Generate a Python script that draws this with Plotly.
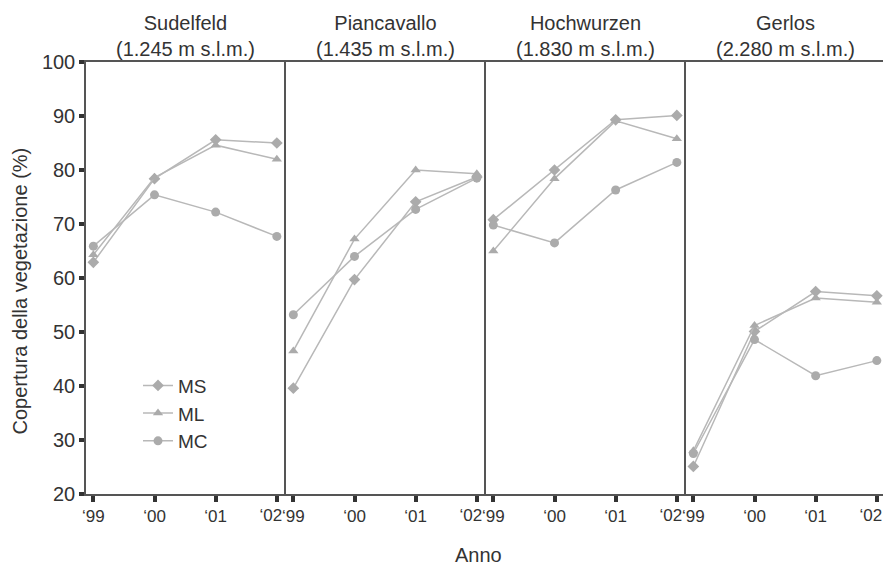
import plotly.graph_objects as go
from plotly.subplots import make_subplots

sites = ["Sudelfeld", "Piancavallo", "Hochwurzen", "Gerlos"]
altitudes = ["(1.245 m s.l.m.)", "(1.435 m s.l.m.)", "(1.830 m s.l.m.)", "(2.280 m s.l.m.)"]
years = [0, 1, 2, 3]
year_labels = ["\u201899", "\u201800", "\u201801", "\u201802"]

ms_sudelfeld = [62.9, 78.4, 85.6, 85.0]
ml_sudelfeld = [64.3, 78.6, 84.6, 82.0]
mc_sudelfeld = [65.9, 75.4, 72.2, 67.7]

ms_piancavallo = [39.6, 59.7, 74.1, 78.7]
ml_piancavallo = [46.5, 67.2, 80.0, 79.3]
mc_piancavallo = [53.2, 64.0, 72.7, 78.5]

ms_hochwurzen = [70.8, 80.0, 89.3, 90.1]
ml_hochwurzen = [65.0, 78.4, 89.1, 85.8]
mc_hochwurzen = [69.8, 66.5, 76.3, 81.4]

ms_gerlos = [25.1, 50.1, 57.5, 56.7]
ml_gerlos = [28.0, 51.2, 56.3, 55.5]
mc_gerlos = [27.5, 48.6, 41.9, 44.7]

series_names = ["MS", "ML", "MC"]
symbols = ["diamond", "triangle-up", "circle"]
data = [
    [ms_sudelfeld, ml_sudelfeld, mc_sudelfeld],
    [ms_piancavallo, ml_piancavallo, mc_piancavallo],
    [ms_hochwurzen, ml_hochwurzen, mc_hochwurzen],
    [ms_gerlos, ml_gerlos, mc_gerlos],
]

line_col = "#b8b8b8"
mark_col = "#ababab"
axis_col = "#555555"
text_col = "#333333"
font_family = "Liberation Sans, Arial, sans-serif"
FS = 20
TFS = 17
XRANGE = [-0.12, 3.15]

fig = make_subplots(rows=1, cols=4, shared_yaxes=True, horizontal_spacing=0)

for p in range(4):
    for s in range(3):
        fig.add_trace(
            go.Scatter(
                x=years,
                y=data[p][s],
                mode="lines+markers",
                name=series_names[s],
                legendgroup=series_names[s],
                showlegend=(p == 0),
                line=dict(color=line_col, width=1.5),
                marker=dict(symbol=symbols[s], size=9, color=mark_col,
                            line=dict(width=0)),
            ),
            row=1, col=p + 1,
        )

for p in range(4):
    fig.update_xaxes(
        row=1, col=p + 1,
        range=XRANGE,
        tickvals=years, ticktext=year_labels[:3] + [""],
        ticks="outside", ticklen=6, tickwidth=4, tickcolor="#333333",
        showline=True, linecolor=axis_col, linewidth=1.5, mirror=True,
        showgrid=False, zeroline=False,
        tickfont=dict(size=TFS, color=text_col, family=font_family),
    )
    fig.update_yaxes(
        row=1, col=p + 1,
        range=[20, 100], dtick=10,
        showline=True, linecolor=axis_col, linewidth=1.5,
        mirror=(p == 3),
        showgrid=False, zeroline=False,
        ticks="outside" if p == 0 else "",
        ticklen=5, tickwidth=4, tickcolor="#333333",
        showticklabels=(p == 0),
        tickfont=dict(size=FS, color=text_col, family=font_family),
    )

# overlay axes carrying the last year label, nudged left so labels do not collide
for p in range(4):
    base_x = "x" if p == 0 else f"x{p+1}"
    base_y = "y" if p == 0 else f"y{p+1}"
    ov = f"x{p+5}"
    fig.add_trace(go.Scatter(x=[], y=[], xaxis=ov, yaxis=base_y,
                             showlegend=False, hoverinfo="skip"))
    fig.layout[f"xaxis{p+5}"] = dict(
        overlaying=base_x, anchor=base_y, side="bottom",
        range=XRANGE, tickvals=[years[3]], ticktext=[year_labels[3]],
        ticks="outside", ticklen=6, tickwidth=0, tickcolor="rgba(0,0,0,0)",
        showline=False, showgrid=False, zeroline=False,
        ticklabelshift=-6,
        tickfont=dict(size=TFS, color=text_col, family=font_family),
    )

# y-axis title
fig.add_annotation(
    x=-0.083, xref="paper", y=0.47, yref="paper",
    text="Copertura della vegetazione (%)", textangle=-90,
    showarrow=False, xanchor="center", yanchor="middle",
    font=dict(size=FS, color=text_col, family=font_family),
)

# panel titles
for p in range(4):
    xa = "x" if p == 0 else f"x{p+1}"
    fig.add_annotation(
        x=1.5, xref=xa, y=1.0, yref="paper",
        text=f"{sites[p]}<br>{altitudes[p]}",
        showarrow=False, yanchor="bottom", yshift=0,
        font=dict(size=FS, color=text_col, family=font_family),
    )

fig.add_annotation(
    x=0.49, xref="paper", y=-0.11, yref="paper",
    text="Anno", showarrow=False, yanchor="top",
    font=dict(size=FS, color=text_col, family=font_family),
)

fig.update_layout(
    width=883, height=563,
    margin=dict(l=78, r=3, t=54, b=77),
    paper_bgcolor="white", plot_bgcolor="white",
    font=dict(family=font_family, color=text_col, size=FS),
    legend=dict(
        x=0.065, y=0.295, xanchor="left", yanchor="top",
        bgcolor="rgba(0,0,0,0)",
        font=dict(size=19, color=text_col, family=font_family),
        itemwidth=30, tracegroupgap=0,
    ),
)

fig.write_html("out.html")
